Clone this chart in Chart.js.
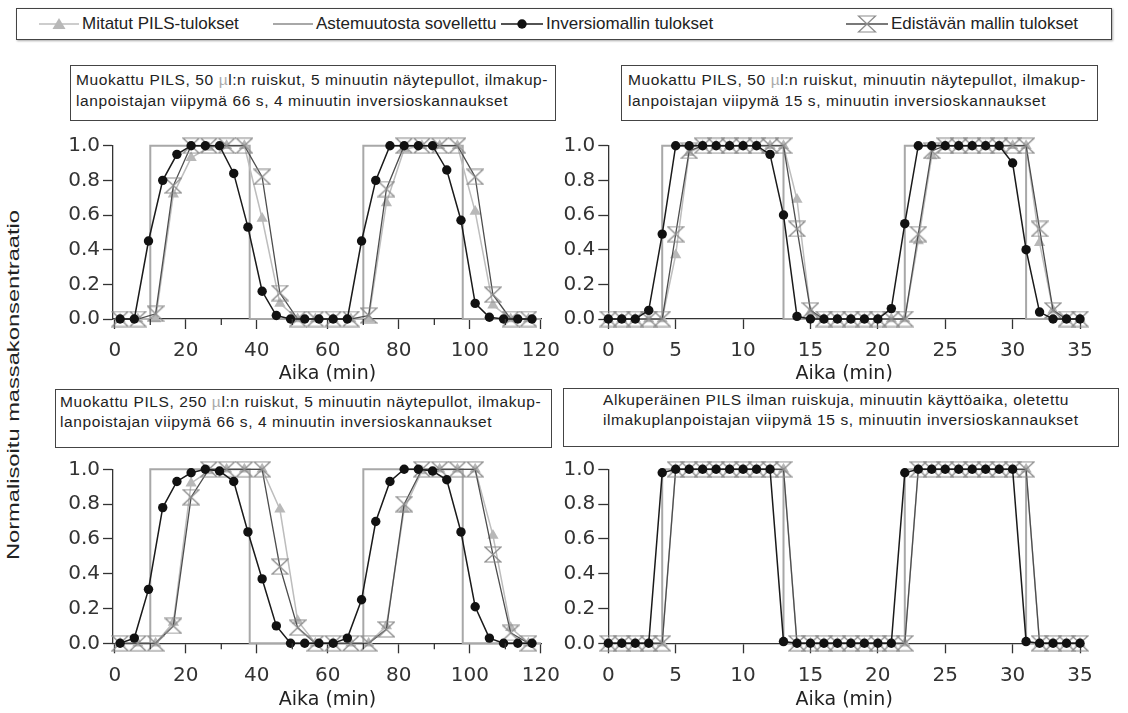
<!DOCTYPE html>
<html>
<head>
<meta charset="utf-8">
<script src="https://cdn.jsdelivr.net/npm/chart.js@4.4.1/dist/chart.umd.min.js"></script>
<style>
  body { margin: 0; width: 1128px; height: 713px; position: relative; overflow: hidden; background: #fff;
         font-family: "Liberation Sans", Arial, sans-serif; color: #222; }
  canvas { position: absolute; }
  .legend { position: absolute; left: 16px; top: 8px; width: 1096px; height: 32px; box-sizing: border-box;
            border: 1.5px solid #444; box-shadow: 1px 1px 2px #aaa; }
  .item { position: absolute; top: 0; height: 29px; display: flex; align-items: center; font-size: 17px; white-space: nowrap; }
  .item svg { margin-right: 3px; }
  .box { position: absolute; box-sizing: border-box; border: 1.5px solid #444; font-size: 15.5px; letter-spacing: 0.6px; white-space: nowrap; }
  .mu { color: #aaa; }
  .ytitle { position: absolute; left: 14px; top: 385px; transform: translate(-50%, -50%) rotate(-90deg) scaleX(1.48);
            font-size: 16px; white-space: nowrap; }
</style>
</head>
<body>
<div class="legend">
  <div class="item" style="left:22px">
    <svg width="40" height="20"><line x1="0" y1="10" x2="40" y2="10" stroke="#bdbdbd" stroke-width="1.5"/><polygon points="20,4 26.5,15 13.5,15" fill="#b8b8b8"/></svg>Mitatut PILS-tulokset</div>
  <div class="item" style="left:256px">
    <svg width="40" height="20"><line x1="0" y1="10" x2="40" y2="10" stroke="#a8a8a8" stroke-width="2"/></svg>Astemuutosta sovellettu</div>
  <div class="item" style="left:484px">
    <svg width="42" height="20"><line x1="0" y1="10" x2="42" y2="10" stroke="#1a1a1a" stroke-width="1.5"/><circle cx="21" cy="10" r="4.7" fill="#111"/></svg>Inversiomallin tulokset</div>
  <div class="item" style="left:829px">
    <svg width="42" height="20"><line x1="0" y1="10" x2="42" y2="10" stroke="#4d4d4d" stroke-width="1.3"/><path d="M12.5,2 L29.5,2 L12.5,18 L29.5,18 Z" fill="none" stroke="#8c8c8c" stroke-width="1.2"/></svg>Edistävän mallin tulokset</div>
</div>

<div class="box" style="left:70px;top:65px;width:486px;height:56px;padding:3px 0 0 5px;line-height:21px">Muokattu PILS, 50 <span class="mu">µ</span>l:n ruiskut, 5 minuutin näytepullot, ilmakup-<br>lanpoistajan viipymä 66 s, 4 minuutin inversioskannaukset</div>
<div class="box" style="left:621px;top:65px;width:477px;height:56px;padding:3px 0 0 6px;line-height:21px">Muokattu PILS, 50 <span class="mu">µ</span>l:n ruiskut, minuutin näytepullot, ilmakup-<br>lanpoistajan viipymä 15 s, minuutin inversioskannaukset</div>
<div class="box" style="left:55px;top:389px;width:497px;height:59px;padding:2px 0 0 4px;line-height:20px">Muokattu PILS, 250 <span class="mu">µ</span>l:n ruiskut, 5 minuutin näytepullot, ilmakup-<br>lanpoistajan viipymä 66 s, 4 minuutin inversioskannaukset</div>
<div class="box" style="left:563px;top:388px;width:556px;height:59px;padding:1px 0 0 39px;line-height:20px">Alkuperäinen PILS ilman ruiskuja, minuutin käyttöaika, oletettu<br>ilmakuplanpoistajan viipymä 15 s, minuutin inversioskannaukset</div>

<div class="ytitle">Normalisoitu massakonsentraatio</div>

<canvas id="p1" width="550" height="265" style="left:20px;top:125px"></canvas>
<canvas id="p2" width="560" height="265" style="left:560px;top:125px"></canvas>
<canvas id="p3" width="550" height="264" style="left:20px;top:449px"></canvas>
<canvas id="p4" width="560" height="264" style="left:560px;top:449px"></canvas>

<script>
// aika-akselit
const invTimesA = [1.5, 5.5, 9.5, 13.5, 17.5, 21.5, 25.5, 29.5, 33.5, 37.5, 41.5, 45.5, 49.5, 53.5, 57.5,
                   61.5, 65.5, 69.5, 73.5, 77.5, 81.5, 85.5, 89.5, 93.5, 97.5, 101.5, 105.5, 109.5, 113.5, 117.5];
const vialTimesA = [1.5, 6.5, 11.5, 16.5, 21.5, 26.5, 31.5, 36.5, 41.5, 46.5, 51.5, 56.5,
                    61.5, 66.5, 71.5, 76.5, 81.5, 86.5, 91.5, 96.5, 101.5, 106.5, 111.5, 116.5];
const minTimesB = [0, 1, 2, 3, 4, 5, 6, 7, 8, 9, 10, 11, 12, 13, 14, 15, 16, 17,
                   18, 19, 20, 21, 22, 23, 24, 25, 26, 27, 28, 29, 30, 31, 32, 33, 34, 35];

// askelfunktiot (astemuutos)
const stepTimesA = [0, 10, 10, 38, 38, 70, 70, 98, 98, 120];
const stepTimesB = [0, 4, 4, 13, 13, 22, 22, 31, 31, 35];
const stepVals = [0, 0, 1, 1, 0, 0, 1, 1, 0, 0];

// paneeli 1: 50 ul, 5 min pullot, 66 s
const inv1 = [0, 0, 0.45, 0.80, 0.95, 1.0, 1.0, 1.0, 0.84, 0.53, 0.16, 0.02, 0, 0, 0,
              0, 0, 0.45, 0.80, 1.0, 1.0, 1.0, 1.0, 0.86, 0.57, 0.09, 0.01, 0, 0, 0];
const meas1 = [0, 0, 0, 0.72, 0.93, 0.99, 1.0, 1.0, 0.58, 0.09, 0, 0,
               0, 0, 0, 0.67, 0.98, 1.0, 1.0, 1.0, 0.62, 0.08, 0, 0];
const fwd1 = [0, 0, 0.03, 0.77, 1.0, 1.0, 1.0, 1.0, 0.82, 0.15, 0, 0,
              0, 0, 0.02, 0.75, 1.0, 1.0, 1.0, 1.0, 0.82, 0.14, 0, 0];

// paneeli 2: 50 ul, minuutin pullot, 15 s
const inv2 = [0, 0, 0, 0.05, 0.49, 1, 1, 1, 1, 1, 1, 1, 0.95, 0.60, 0.015, 0, 0, 0,
              0, 0, 0, 0.06, 0.55, 1, 1, 1, 1, 1, 1, 1, 0.90, 0.40, 0.04, 0, 0, 0];
const meas2 = [0, 0, 0, 0, 0, 0.37, 0.96, 1, 1, 1, 1, 1, 1, 1, 0.69, 0.04, 0, 0,
               0, 0, 0, 0, 0, 0.45, 0.94, 1, 1, 1, 1, 1, 1, 1, 0.44, 0.05, 0, 0];
const fwd2 = [0, 0, 0, 0, 0, 0.49, 0.97, 1, 1, 1, 1, 1, 1, 1, 0.52, 0.05, 0, 0,
              0, 0, 0, 0, 0, 0.49, 0.97, 1, 1, 1, 1, 1, 1, 1, 0.52, 0.05, 0, 0];

// paneeli 3: 250 ul, 5 min pullot, 66 s
const inv3 = [0, 0.03, 0.31, 0.78, 0.93, 0.98, 1.0, 0.99, 0.93, 0.64, 0.37, 0.10, 0, 0, 0,
              0, 0.03, 0.25, 0.70, 0.93, 1.0, 1.0, 0.99, 0.94, 0.64, 0.21, 0.03, 0, 0, 0];
const meas3 = [0, 0, 0, 0.12, 0.92, 0.99, 1.0, 1.0, 1.0, 0.77, 0.13, 0,
               0, 0, 0, 0.10, 0.77, 0.99, 1.0, 1.0, 1.0, 0.62, 0.09, 0];
const fwd3 = [0, 0, 0, 0.10, 0.84, 1.0, 1.0, 1.0, 1.0, 0.44, 0.09, 0,
              0, 0, 0, 0.08, 0.80, 1.0, 1.0, 1.0, 1.0, 0.51, 0.06, 0];

// paneeli 4: alkuperainen PILS
const inv4 = [0, 0, 0, 0, 0.98, 1, 1, 1, 1, 1, 1, 1, 1, 0.01, 0, 0, 0, 0,
              0, 0, 0, 0, 0.98, 1, 1, 1, 1, 1, 1, 1, 1, 0.01, 0, 0, 0, 0];
const meas4 = [0, 0, 0, 0, 0, 1, 1, 1, 1, 1, 1, 1, 1, 1, 0, 0, 0, 0,
               0, 0, 0, 0, 0, 1, 1, 1, 1, 1, 1, 1, 1, 1, 0, 0, 0, 0];
const fwd4 = [0, 0, 0, 0, 0, 1, 1, 1, 1, 1, 1, 1, 1, 1, 0, 0, 0, 0,
              0, 0, 0, 0, 0, 1, 1, 1, 1, 1, 1, 1, 1, 1, 0, 0, 0, 0];

const xTicksA = [0, 20, 40, 60, 80, 100, 120];
const xMinorA = [10, 30, 50, 70, 90, 110];
const xTicksB = [0, 5, 10, 15, 20, 25, 30, 35];
const yTicks = [0, 0.2, 0.4, 0.6, 0.8, 1.0];

const pts = (xs, ys) => xs.map((x, i) => ({ x: x, y: ys[i] }));

// tiimalasimerkki
const hourglass = document.createElement('canvas');
hourglass.width = 18; hourglass.height = 17;
const hg = hourglass.getContext('2d');
hg.strokeStyle = '#8c8c8c'; hg.lineWidth = 1.2;
hg.beginPath(); hg.moveTo(1, 1); hg.lineTo(17, 1); hg.lineTo(1, 16); hg.lineTo(17, 16); hg.closePath(); hg.stroke();

const minorTicks = {
  id: 'minorTicks',
  afterDraw(chart, args, opts) {
    if (!opts.values) return;
    const { ctx, chartArea } = chart;
    const x = chart.scales.x;
    ctx.save();
    ctx.strokeStyle = '#333'; ctx.lineWidth = 1.3;
    opts.values.forEach(v => {
      const px = x.getPixelForValue(v);
      ctx.beginPath(); ctx.moveTo(px, chartArea.bottom); ctx.lineTo(px, chartArea.bottom + 6); ctx.stroke();
    });
    ctx.restore();
  }
};

const tickFont = { family: 'DejaVu Sans', size: 20 };

function panel(id, o) {
  new Chart(document.getElementById(id), {
    type: 'line',
    data: {
      datasets: [
        { data: pts(o.invT, o.inv), borderColor: '#1a1a1a', backgroundColor: '#111', borderWidth: 1.5,
          pointRadius: 4.7, pointBorderWidth: 0, order: 0, clip: false },
        { data: pts(o.vialT, o.fwd), borderColor: '#4d4d4d', borderWidth: 1.3,
          pointStyle: hourglass, pointRadius: 8, order: 1, clip: false },
        { data: pts(o.vialT, o.meas), borderColor: '#bdbdbd', backgroundColor: '#b8b8b8', borderWidth: 1.5,
          pointStyle: 'triangle', pointRadius: 6.5, pointBorderWidth: 0, order: 2, clip: false },
        { data: pts(o.stepT, stepVals), borderColor: '#a8a8a8', borderWidth: 2, pointRadius: 0, order: 3, clip: false }
      ]
    },
    options: {
      responsive: false,
      animation: false,
      layout: { padding: { top: o.padTop, right: o.padRight, left: 0, bottom: 0 } },
      plugins: { legend: { display: false }, tooltip: { enabled: false }, minorTicks: { values: o.minor } },
      scales: {
        x: {
          type: 'linear', min: o.xMin, max: o.xMax,
          afterBuildTicks: s => { s.ticks = o.xTicks.map(v => ({ value: v })); },
          afterFit: s => { s.height = o.xH; },
          ticks: { font: tickFont, color: '#333', padding: 10, maxRotation: 0, autoSkip: false },
          grid: { drawOnChartArea: false, tickLength: 10, tickColor: '#333', tickWidth: 1.3 },
          border: { color: '#333', width: 1.3 },
          title: { display: true, text: 'Aika (min)', font: { family: 'DejaVu Sans', size: 19 }, color: '#222',
                   padding: { top: 0, bottom: o.titlePad } }
        },
        y: {
          min: 0, max: 1,
          afterBuildTicks: s => { s.ticks = yTicks.map(v => ({ value: v })); },
          afterFit: s => { s.width = o.yW; },
          ticks: { font: tickFont, color: '#333', padding: 3, callback: v => v.toFixed(1) },
          grid: { drawOnChartArea: false, tickLength: 10, tickColor: '#333', tickWidth: 1.3 },
          border: { color: '#333', width: 1.3 }
        }
      }
    },
    plugins: [minorTicks]
  });
}

panel('p1', { invT: invTimesA, inv: inv1, vialT: vialTimesA, meas: meas1, fwd: fwd1, stepT: stepTimesA,
  xMin: -0.5, xMax: 120.3, xTicks: xTicksA, minor: xMinorA, padTop: 20.7, padRight: 21, yW: 93, xH: 71, titlePad: 5 });
panel('p2', { invT: minTimesB, inv: inv2, vialT: minTimesB, meas: meas2, fwd: fwd2, stepT: stepTimesB,
  xMin: 0, xMax: 35, xTicks: xTicksB, minor: null, padTop: 20.7, padRight: 40, yW: 48.3, xH: 71, titlePad: 5 });
panel('p3', { invT: invTimesA, inv: inv3, vialT: vialTimesA, meas: meas3, fwd: fwd3, stepT: stepTimesA,
  xMin: -0.5, xMax: 120.3, xTicks: xTicksA, minor: xMinorA, padTop: 20.3, padRight: 21, yW: 93, xH: 69.7, titlePad: 1.5 });
panel('p4', { invT: minTimesB, inv: inv4, vialT: minTimesB, meas: meas4, fwd: fwd4, stepT: stepTimesB,
  xMin: 0, xMax: 35, xTicks: xTicksB, minor: null, padTop: 20.3, padRight: 40, yW: 48.3, xH: 69.7, titlePad: 1.5 });
</script>
</body>
</html>
